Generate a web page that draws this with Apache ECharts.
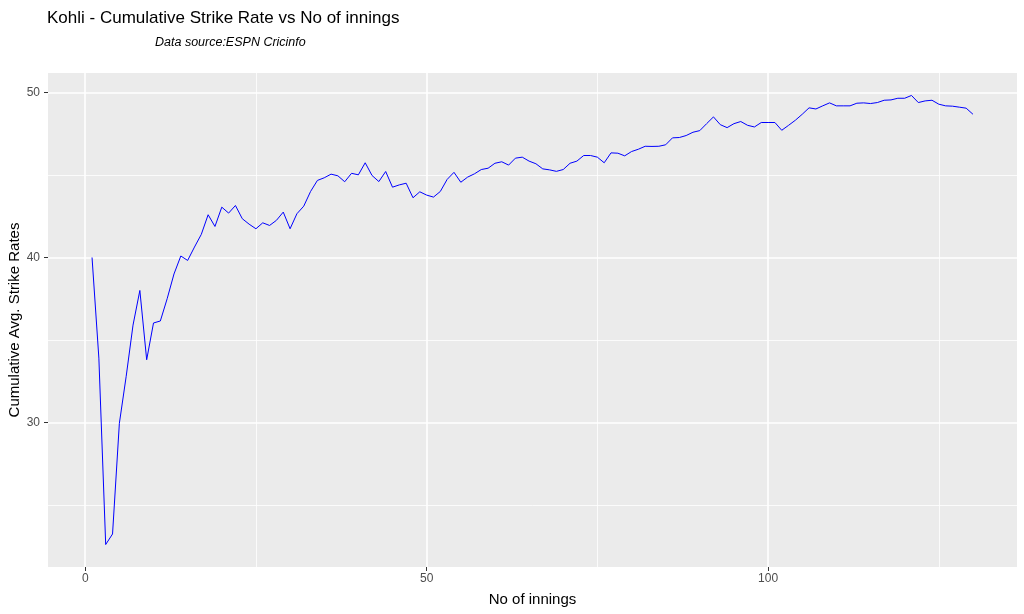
<!DOCTYPE html>
<html><head><meta charset="utf-8">
<script src="https://cdn.jsdelivr.net/npm/echarts@6/dist/echarts.min.js"></script>
<style>html,body{margin:0;padding:0;background:#fff}#c{width:1024px;height:614px}</style>
</head><body><div id="c"></div>
<script>
// Cumulative average strike rate after each innings (innings 1..130)
const strikeRates = [
  40.0, 33.9, 22.6, 23.24, 29.95, 32.8, 35.9, 38.0, 33.8, 36.03,
  36.15, 37.5, 39.0, 40.09, 39.82, 40.63, 41.4, 42.59, 41.88, 43.05,
  42.69, 43.15, 42.35, 42.02, 41.74, 42.1, 41.94, 42.25, 42.75, 41.74,
  42.65, 43.11, 44.0, 44.67, 44.83, 45.05, 44.95, 44.59, 45.1, 45.01,
  45.74, 44.97, 44.6, 45.21, 44.26, 44.4, 44.5, 43.62, 43.98, 43.78,
  43.66, 44.0, 44.73, 45.16, 44.56, 44.87, 45.07, 45.33, 45.41, 45.71,
  45.8, 45.6, 46.02, 46.08, 45.84, 45.68, 45.37, 45.31, 45.22, 45.33,
  45.71, 45.84, 46.18, 46.18, 46.08, 45.74, 46.34, 46.32, 46.16, 46.42,
  46.56, 46.74, 46.73, 46.74, 46.83, 47.25, 47.27, 47.39, 47.59, 47.69,
  48.11, 48.52, 48.05, 47.87, 48.11, 48.24, 48.01, 47.91, 48.18, 48.18,
  48.18, 47.71, 48.01, 48.32, 48.68, 49.07, 49.0, 49.19, 49.37, 49.19,
  49.19, 49.19, 49.35, 49.37, 49.33, 49.39, 49.53, 49.55, 49.65, 49.65,
  49.82, 49.39, 49.49, 49.53, 49.29, 49.19, 49.17, 49.11, 49.05, 48.68
];
const xMajorTicks = [0, 50, 100];
const xMinorTicks = [25, 75, 125];
const yMajorTicks = [30, 40, 50];
const yMinorTicks = [25, 35, 45];
const titleText = 'Kohli - Cumulative Strike Rate vs No of innings';
const subtitleText = 'Data source:ESPN Cricinfo';
const xTitle = 'No of innings';
const yTitle = 'Cumulative Avg. Strike Rates';

const seriesData = strikeRates.map((v, i) => [i + 1, v]);
// ggplot-style 5% expansion of the data range
const xs = seriesData.map(d => d[0]);
const xLo = Math.min(...xs), xHi = Math.max(...xs);
const yLo = Math.min(...strikeRates), yHi = Math.max(...strikeRates);
const xMin = xLo - 0.05 * (xHi - xLo), xMax = xHi + 0.05 * (xHi - xLo);
const yMin = yLo - 0.05 * (yHi - yLo), yMax = yHi + 0.05 * (yHi - yLo);

const FONT = 'Liberation Sans, Arial, sans-serif';
const chart = echarts.init(document.getElementById('c'), null, {renderer: 'canvas'});
chart.setOption({
  animation: false,
  backgroundColor: '#fff',
  textStyle: {fontFamily: FONT},
  title: [
    {text: titleText, left: 47, top: 10, padding: 0,
     textStyle: {fontSize: 17, fontWeight: 'normal', color: '#000', fontFamily: FONT}},
    {text: subtitleText, left: 155, top: 36, padding: 0,
     textStyle: {fontSize: 12.5, fontWeight: 'normal', fontStyle: 'italic', color: '#000', fontFamily: FONT}}
  ],
  grid: {left: 48, right: 7, top: 73, bottom: 47, show: true, backgroundColor: '#EBEBEB', borderWidth: 0,
         containLabel: false, outerBoundsMode: 'none'},
  xAxis: [
    {type: 'value', min: xMin, max: xMax,
     name: xTitle, nameLocation: 'middle', nameGap: 25, nameMoveOverlap: false,
     nameTextStyle: {color: '#000', fontSize: 15, fontFamily: FONT},
     axisLine: {show: false, onZero: false},
     axisTick: {show: true, length: 4, customValues: xMajorTicks, lineStyle: {color: '#333', width: 1}},
     axisLabel: {customValues: xMajorTicks, color: '#4D4D4D', fontSize: 12, margin: 6, fontFamily: FONT},
     splitLine: {show: true, lineStyle: {color: '#fff', width: 1.6}}},
    {type: 'value', min: xMin, max: xMax, position: 'bottom',
     axisLine: {show: false, onZero: false},
     axisTick: {show: false, customValues: xMinorTicks},
     axisLabel: {show: false, customValues: xMinorTicks},
     splitLine: {show: true, lineStyle: {color: '#fff', width: 0.8}}}
  ],
  yAxis: [
    {type: 'value', min: yMin, max: yMax,
     name: yTitle, nameLocation: 'middle', nameGap: 26, nameRotate: 90, nameMoveOverlap: false,
     nameTextStyle: {color: '#000', fontSize: 15, fontFamily: FONT},
     axisLine: {show: false, onZero: false},
     axisTick: {show: true, length: 4, customValues: yMajorTicks, lineStyle: {color: '#333', width: 1}},
     axisLabel: {customValues: yMajorTicks, color: '#4D4D4D', fontSize: 12, margin: 8, fontFamily: FONT},
     splitLine: {show: true, lineStyle: {color: '#fff', width: 1.6}}},
    {type: 'value', min: yMin, max: yMax, position: 'left',
     axisLine: {show: false, onZero: false},
     axisTick: {show: false, customValues: yMinorTicks},
     axisLabel: {show: false, customValues: yMinorTicks},
     splitLine: {show: true, lineStyle: {color: '#fff', width: 0.8}}}
  ],
  series: [{
    type: 'line', xAxisIndex: 0, yAxisIndex: 0, data: seriesData,
    symbol: 'none', showSymbol: false, z: 5,
    lineStyle: {color: '#0000FF', width: 1}
  }]
});
</script></body></html>
